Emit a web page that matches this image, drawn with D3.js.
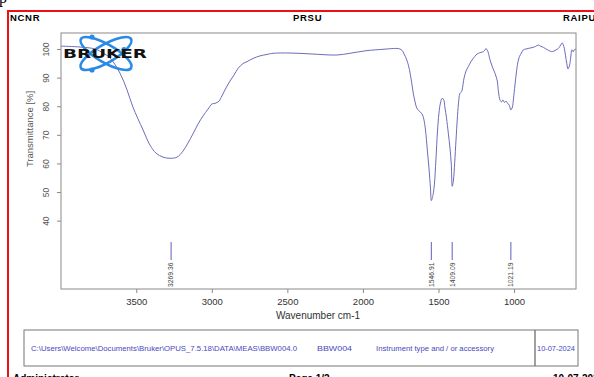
<!DOCTYPE html>
<html>
<head>
<meta charset="utf-8">
<script src="https://cdn.jsdelivr.net/npm/d3@7"></script>
<style>
  body { margin: 0; background: #fff; }
  svg { display: block; font-family: "Liberation Sans", Arial, sans-serif; }
</style>
</head>
<body>
<div id="chart"></div>
<script>
// spectrum (wavenumber cm-1, transmittance %)
const wavenumbers = [3998, 3872, 3773, 3720, 3674, 3608, 3561, 3522, 3455, 3409, 3369, 3323, 3277, 3230, 3191, 3158, 3125, 3091, 3058, 3025, 2999, 2979, 2966, 2952, 2933, 2906, 2880, 2853, 2827, 2794, 2767, 2727, 2681, 2635, 2595, 2483, 2350, 2251, 2172, 2086, 1980, 1867, 1821, 1774, 1755, 1741, 1728, 1710, 1698, 1688, 1675, 1667, 1655, 1644, 1632, 1622, 1605, 1596, 1586, 1574, 1563, 1553, 1547, 1536, 1527, 1517, 1507, 1497, 1487, 1477, 1467, 1457, 1447, 1435, 1424, 1415, 1409, 1401, 1393, 1384, 1376, 1368, 1358, 1347, 1341, 1331, 1318, 1303, 1285, 1270, 1252, 1237, 1219, 1203, 1192, 1186, 1179, 1172, 1159, 1143, 1126, 1116, 1110, 1103, 1093, 1083, 1073, 1063, 1053, 1044, 1032, 1021, 1011, 1004, 994, 984, 974, 964, 951, 939, 921, 906, 888, 873, 858, 840, 822, 806, 782, 762, 751, 736, 722, 707, 696, 686, 681, 674, 667, 659, 651, 643, 636, 630, 623, 618, 613, 608, 602, 596, 590];
const transmittance = [101.0, 100.7, 100.0, 98.6, 96.9, 91.6, 85.7, 79.7, 71.7, 66.4, 63.6, 62.2, 61.8, 62.2, 64.3, 67.1, 70.3, 73.8, 76.6, 79.0, 80.8, 81.0, 81.3, 81.8, 83.6, 86.4, 88.8, 90.9, 93.2, 94.9, 95.6, 96.7, 97.6, 98.1, 98.5, 98.6, 98.3, 98.0, 97.9, 98.5, 99.4, 99.9, 100.1, 100.2, 100.0, 99.5, 98.3, 96.2, 94.1, 91.6, 87.4, 84.6, 81.5, 79.4, 78.5, 78.1, 76.9, 75.2, 71.7, 64.7, 58.4, 51.4, 47.0, 49.1, 52.8, 61.2, 71.0, 77.6, 81.1, 82.7, 82.5, 79.4, 75.9, 70.6, 65.4, 59.4, 52.0, 54.2, 60.1, 68.2, 75.2, 80.8, 84.5, 85.1, 86.4, 89.8, 92.3, 93.8, 95.6, 96.7, 97.9, 98.5, 98.8, 99.1, 99.7, 100.2, 99.7, 99.0, 96.2, 93.7, 91.5, 89.9, 88.5, 85.0, 82.2, 81.5, 82.2, 81.3, 81.8, 81.1, 80.4, 78.7, 79.7, 82.5, 87.4, 92.0, 95.5, 97.4, 98.6, 99.7, 100.0, 100.2, 100.4, 100.6, 100.9, 101.4, 100.9, 100.6, 99.8, 99.3, 99.1, 99.3, 99.7, 100.2, 101.0, 101.9, 102.2, 101.4, 100.2, 97.6, 95.0, 93.0, 93.7, 95.0, 97.9, 99.7, 99.5, 99.0, 99.7, 99.9, 100.0];

const peakLabels = ["3269.36", "1546.91", "1409.09", "1021.19"];
const xTicks = [3500, 3000, 2500, 2000, 1500, 1000];
const yTicks = [40, 50, 60, 70, 80, 90, 100];

const headerTexts = ["NCNR", "PRSU", "RAIPU"];
const footerTexts = ["C:\\Users\\Welcome\\Documents\\Bruker\\OPUS_7.5.18\\DATA\\MEAS\\BBW004.0", "BBW004", "Instrument type and / or accessory", "10-07-2024"];
const pageTexts = ["Administrator", "Page 1/2", "10-07-2024"];

const width = 594, height = 377;
const box = { left: 61, right: 576, top: 33, bottom: 289 };

const svg = d3.select("#chart").append("svg")
    .attr("width", width)
    .attr("height", height);

const x = d3.scaleLinear().domain([3998, 590]).range([box.left, box.right]);
const y = d3.scaleLinear().domain([16.1, 105.6]).range([box.bottom, box.top]);

// page frame
svg.append("rect")
    .attr("x", 8).attr("y", 11)
    .attr("width", 700).attr("height", 420)
    .attr("fill", "none").attr("stroke", "#ee1111").attr("stroke-width", 2);

svg.append("text").attr("x", -1).attr("y", 3)
    .style("font-family", "'Liberation Serif', serif").style("font-size", "16px")
    .text("p");

// header
const headerX = [10, 293, 563];
svg.selectAll("text.header")
    .data(headerTexts)
    .enter().append("text")
    .attr("class", "header")
    .attr("x", (d, i) => headerX[i])
    .attr("y", 21)
    .style("font-size", "9.5px")
    .style("font-weight", "bold")
    .style("letter-spacing", "0.7px")
    .text(d => d);

// spectrum line
const line = d3.line()
    .x((d, i) => x(wavenumbers[i]))
    .y(d => y(d))
    .curve(d3.curveCatmullRom.alpha(0.5));

svg.append("path")
    .datum(transmittance)
    .attr("fill", "none")
    .attr("stroke", "#6c6cba")
    .attr("stroke-width", 1)
    .attr("d", line);

// plot box
svg.append("rect")
    .attr("x", box.left).attr("y", box.top)
    .attr("width", box.right - box.left).attr("height", box.bottom - box.top)
    .attr("fill", "none").attr("stroke", "#8a8a8a").attr("stroke-width", 1);

// y axis
const yAxis = svg.append("g")
    .attr("transform", `translate(${box.left},0)`)
    .call(d3.axisLeft(y).tickValues(yTicks).tickSize(4).tickPadding(0).tickFormat(d3.format("d")));
yAxis.select(".domain").remove();
yAxis.selectAll(".tick line").attr("stroke", "#8a8a8a");
yAxis.selectAll(".tick text")
    .attr("x", -15).attr("dy", "0.35em")
    .attr("transform", "rotate(-90,-15,0)")
    .attr("text-anchor", "middle")
    .attr("fill", "#555")
    .style("font-size", "8.5px")
    .style("font-family", "'Liberation Sans', Arial, sans-serif");

svg.append("text")
    .attr("transform", "translate(30,129) rotate(-90)")
    .attr("text-anchor", "middle")
    .attr("dy", "0.35em")
    .attr("fill", "#555")
    .style("font-size", "9.5px")
    .text("Transmittance [%]");

// x axis
const xAxis = svg.append("g")
    .attr("transform", `translate(0,${box.bottom})`)
    .call(d3.axisBottom(x).tickValues(xTicks).tickSize(4).tickPadding(5).tickFormat(d3.format("d")));
xAxis.select(".domain").remove();
xAxis.selectAll(".tick line").attr("stroke", "#8a8a8a");
xAxis.selectAll(".tick text")
    .attr("fill", "#333")
    .style("font-size", "9.5px")
    .style("font-family", "'Liberation Sans', Arial, sans-serif");

svg.append("text")
    .attr("x", 318).attr("y", 319)
    .attr("text-anchor", "middle")
    .attr("fill", "#333")
    .style("font-size", "10px")
    .text("Wavenumber cm-1");

// peak picks
const peaks = svg.selectAll("g.peak")
    .data(peakLabels)
    .enter().append("g")
    .attr("class", "peak")
    .attr("transform", d => `translate(${x(+d)},0)`);

peaks.append("line")
    .attr("y1", 242).attr("y2", 260)
    .attr("stroke", "#7a7ac8").attr("stroke-width", 1.2);

peaks.append("text")
    .attr("transform", "translate(0,287) rotate(-90)")
    .attr("dy", "0.35em")
    .attr("fill", "#444")
    .style("font-size", "6.8px")
    .text(d => d);

// logo
const logo = svg.append("g").attr("transform", "translate(106,53.5)");
[30, -30].forEach(a => {
    logo.append("ellipse")
        .attr("rx", 29).attr("ry", 9)
        .attr("transform", `rotate(${a})`)
        .attr("fill", "none")
        .attr("stroke", "#2a8ae6")
        .attr("stroke-width", 2.6);
});
[[-14, -16.5], [-14, 16.5], [18, -4]].forEach(p => {
    logo.append("circle").attr("cx", p[0]).attr("cy", p[1]).attr("r", 2.6).attr("fill", "#2a8ae6");
});
logo.append("text")
    .attr("x", -43).attr("y", 4)
    .attr("textLength", 84)
    .attr("lengthAdjust", "spacingAndGlyphs")
    .style("font-family", "'DejaVu Sans', sans-serif")
    .style("font-weight", "bold")
    .style("font-size", "11.5px")
    .attr("fill", "#111")
    .text("BRUKER");

// footer box
svg.append("rect")
    .attr("x", 24).attr("y", 330).attr("width", 554).attr("height", 36)
    .attr("fill", "none").attr("stroke", "#777").attr("stroke-width", 1);
svg.append("line")
    .attr("x1", 535).attr("x2", 535).attr("y1", 330).attr("y2", 366)
    .attr("stroke", "#777").attr("stroke-width", 1.4);

const footerX = [31, 317, 376, 537];
const footerW = [266, 35, 118, 38];
svg.selectAll("text.footer")
    .data(footerTexts)
    .enter().append("text")
    .attr("class", "footer")
    .attr("x", (d, i) => footerX[i])
    .attr("y", 351)
    .attr("textLength", (d, i) => footerW[i])
    .attr("lengthAdjust", "spacingAndGlyphs")
    .attr("fill", "#4848c0")
    .style("font-size", "7.4px")
    .text(d => d);

const pageX = [13, 289, 553];
svg.selectAll("text.page")
    .data(pageTexts)
    .enter().append("text")
    .attr("class", "page")
    .attr("x", (d, i) => pageX[i])
    .attr("y", 382)
    .style("font-size", "10px")
    .style("font-weight", "bold")
    .text(d => d);
</script>
</body>
</html>
